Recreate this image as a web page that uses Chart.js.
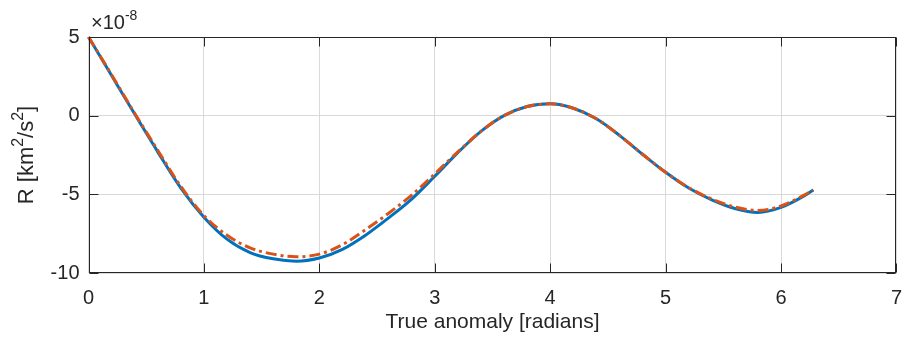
<!DOCTYPE html>
<html>
<head>
<meta charset="utf-8">
<script src="https://cdn.jsdelivr.net/npm/chart.js@4.4.1/dist/chart.umd.min.js"></script>
<style>
  html, body { margin: 0; padding: 0; background: #fff; }
  #wrap { width: 915px; height: 348px; }
</style>
</head>
<body>
<div id="wrap"><canvas id="c" width="915" height="348"></canvas></div>
<script>
// values in units of 1e-8 km^2/s^2
const anomaly = [0, 0.2, 0.4, 0.6, 0.8, 1.0, 1.2, 1.4, 1.6, 1.8, 2.0, 2.2, 2.4, 2.6, 2.8, 3.0, 3.2, 3.4, 3.6, 3.8, 4.0, 4.2, 4.4, 4.6, 4.8, 5.0, 5.2, 5.4, 5.6, 5.8, 6.0, 6.2, 6.28];
const rExact = [5.0, 2.55, 0.1, -2.3, -4.6, -6.45, -7.85, -8.7, -9.1, -9.25, -9.05, -8.5, -7.6, -6.5, -5.3, -3.85, -2.35, -1.0, 0.0, 0.58, 0.75, 0.47, -0.2, -1.25, -2.45, -3.6, -4.6, -5.35, -5.9, -6.15, -5.83, -5.1, -4.72];
const rApprox = [5.0, 2.6, 0.15, -2.2, -4.5, -6.35, -7.6, -8.4, -8.8, -8.97, -8.8, -8.2, -7.25, -6.2, -5.05, -3.7, -2.3, -1.0, 0.0, 0.58, 0.75, 0.47, -0.2, -1.25, -2.45, -3.6, -4.57, -5.3, -5.8, -6.03, -5.74, -5.05, -4.72];
const xTicks = [0, 1, 2, 3, 4, 5, 6, 7];
const yTicks = [-10, -5, 0, 5];

const axisColor = '#262626';
const gridColor = '#d9d9d9';
const fontFam = '"Liberation Sans", Arial, Helvetica, sans-serif';

function pts(xs, ys) {
  return xs.map((x, i) => ({ x: x, y: ys[i] }));
}

const matlabAxes = {
  id: 'matlabAxes',
  afterDatasetsDraw(chart) {
    const ctx = chart.ctx;
    const a = chart.chartArea;
    const xs = chart.scales.x, ys = chart.scales.y;
    ctx.save();
    ctx.strokeStyle = axisColor;
    ctx.lineWidth = 1;
    const L = Math.round(a.left) + 0.5, R = Math.round(a.right) - 0.5;
    const T = Math.round(a.top) + 0.5, B = Math.round(a.bottom) - 0.5;
    ctx.strokeRect(L, T, R - L, B - T);
    const tl = 9;
    ctx.beginPath();
    xTicks.forEach(v => {
      const px = Math.round(xs.getPixelForValue(v)) + 0.5;
      ctx.moveTo(px, B); ctx.lineTo(px, B - tl);
      ctx.moveTo(px, T); ctx.lineTo(px, T + tl);
    });
    yTicks.forEach(v => {
      const py = Math.round(ys.getPixelForValue(v)) + 0.5;
      ctx.moveTo(L, py); ctx.lineTo(L + tl, py);
      ctx.moveTo(R, py); ctx.lineTo(R - tl, py);
    });
    ctx.stroke();

    ctx.fillStyle = axisColor;
    ctx.textBaseline = 'alphabetic';
    // x axis label
    ctx.font = '21px ' + fontFam;
    ctx.textAlign = 'center';
    ctx.fillText('True anomaly [radians]', (a.left + a.right) / 2, 328);

    // exponent
    ctx.textAlign = 'left';
    ctx.font = '20px ' + fontFam;
    ctx.fillText('\u00d710', 91, 29);
    const w10 = ctx.measureText('\u00d710').width;
    ctx.font = '14px ' + fontFam;
    ctx.fillText('-8', 91 + w10, 20);

    // y axis label with superscripts
    const parts = [['R [km', 22, 0], ['2', 16, -10], ['/s', 22, 0], ['2', 16, -10], [']', 22, 0]];
    let total = 0;
    parts.forEach(p => { ctx.font = p[1] + 'px ' + fontFam; total += ctx.measureText(p[0]).width; });
    ctx.translate(33, (a.top + a.bottom) / 2);
    ctx.rotate(-Math.PI / 2);
    let cx = -total / 2;
    parts.forEach(p => {
      ctx.font = p[1] + 'px ' + fontFam;
      ctx.fillText(p[0], cx, p[2]);
      cx += ctx.measureText(p[0]).width;
    });
    ctx.restore();
  }
};

new Chart(document.getElementById('c'), {
  type: 'line',
  data: {
    datasets: [
      {
        label: 'exact',
        data: pts(anomaly, rExact),
        borderColor: '#0072BD',
        borderWidth: 3,
        pointRadius: 0,
        cubicInterpolationMode: 'monotone',
        order: 1,
        fill: false
      },
      {
        label: 'approx',
        data: pts(anomaly, rApprox),
        borderColor: '#D95319',
        borderWidth: 3,
        borderDash: [11, 4, 3, 4],
        pointRadius: 0,
        cubicInterpolationMode: 'monotone',
        order: 0,
        fill: false
      }
    ]
  },
  options: {
    responsive: false,
    animation: false,
    clip: false,
    layout: { padding: { top: 37, right: 11, left: 0, bottom: 0 } },
    plugins: { legend: { display: false }, tooltip: { enabled: false } },
    scales: {
      x: {
        type: 'linear',
        min: 0, max: 7,
        afterFit(scale) { scale.height = 75; },
        afterBuildTicks(scale) { scale.ticks = xTicks.map(v => ({ value: v })); },
        grid: { color: gridColor, drawTicks: false },
        border: { display: false },
        ticks: { color: axisColor, font: { family: fontFam, size: 20 }, padding: 13, maxRotation: 0 }
      },
      y: {
        type: 'linear',
        min: -10, max: 5,
        afterFit(scale) { scale.width = 88.5; },
        afterBuildTicks(scale) { scale.ticks = yTicks.map(v => ({ value: v })); },
        grid: { color: gridColor, drawTicks: false },
        border: { display: false },
        ticks: { color: axisColor, font: { family: fontFam, size: 20 }, padding: 9 }
      }
    }
  },
  plugins: [matlabAxes]
});
</script>
</body>
</html>
